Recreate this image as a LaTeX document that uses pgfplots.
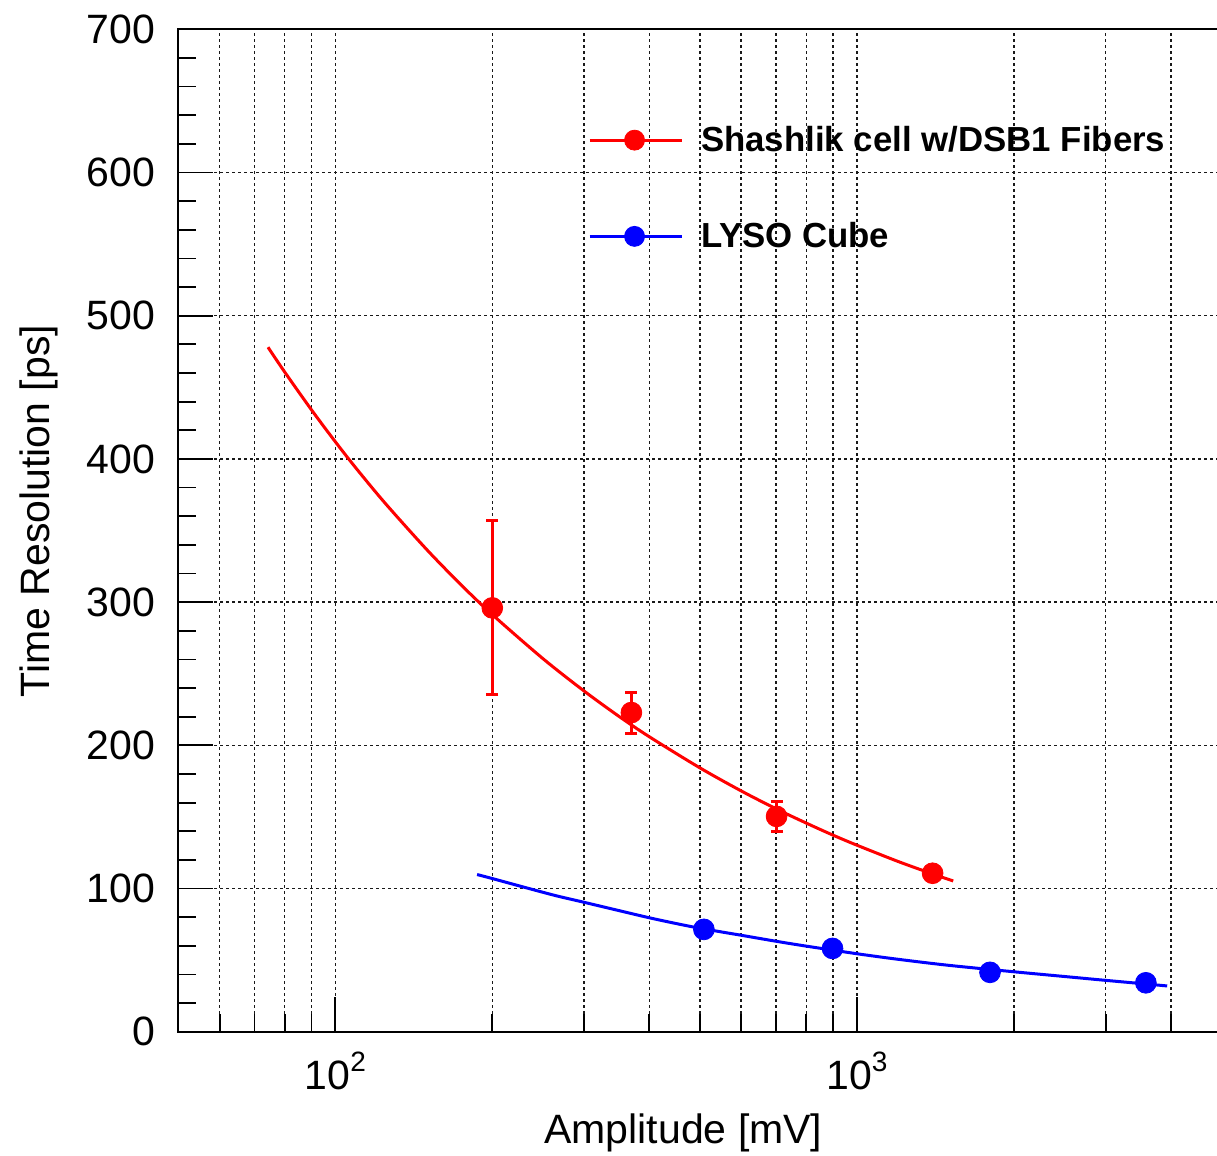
\documentclass[border=0pt]{standalone}
\usepackage{pgfplots}
\pgfplotsset{compat=1.18}
\usepackage{fontspec}
\setmainfont{Liberation Sans}

\begin{document}
\begin{tikzpicture}
\useasboundingbox (-89.15pt,-61.65pt) rectangle (519.3pt,515.85pt);
\begin{axis}[
  at={(0pt,0pt)}, anchor=south west,
  scale only axis, width=521.5pt, height=501.2pt,
  xmode=log, xmin=50, xmax=5000, ymin=0, ymax=700,
  xtick={100,1000},
  xticklabels={{10\raisebox{9pt}{\fontsize{14}{14}\selectfont 2}},{10\raisebox{9pt}{\fontsize{14}{14}\selectfont 3}}},
  minor xtick={60,70,80,90,200,300,400,500,600,700,800,900,2000,3000,4000},
  ytick={0,100,200,300,400,500,600,700},
  minor y tick num=4,
  tick align=inside, xtick pos=bottom, ytick pos=left,
  major tick length=17.5pt, minor tick length=9pt,
  every tick/.style={black, line width=0.9pt},
  axis line style={black, line width=1pt},
  xmajorgrids=true, xminorgrids=true, ymajorgrids=true,
  major grid style={black!90, line width=0.7pt, dash pattern=on 1.5pt off 1.5pt},
  minor grid style={black!90, line width=0.7pt, dash pattern=on 1.5pt off 1.5pt},
  tick label style={font=\fontsize{20.5}{24}\selectfont},
  /pgf/number format/assume math mode=true,
  yticklabel style={inner sep=0pt, xshift=-11.5pt},
  xticklabel style={inner sep=0pt, yshift=-9.65pt},
  xlabel={Amplitude [mV]}, ylabel={Time Resolution [ps]},
  label style={font=\fontsize{20.5}{24}\selectfont},
  xlabel style={at={(rel axis cs:0.4842,0)}, anchor=north, inner sep=0pt, yshift=-41pt},
  ylabel style={at={([xshift=-64.5pt]rel axis cs:0,0.5195)}, anchor=base, inner sep=0pt},
  legend cell align=left,
  legend style={at={(rel axis cs:0.3928,0.9035)}, anchor=north west, draw=none, fill=none,
    inner sep=0pt, outer sep=0pt, row sep=34pt, column sep=9pt,
    font=\bfseries\fontsize{17.4}{20}\selectfont, nodes={inner sep=0pt}},
]
% red fit
\addplot[red, line width=1.5pt, smooth, forget plot] coordinates {
 (74.3,478.0) (80,460.6) (90,434.3) (100,412.0) (110,392.8) (125,368.5)
 (150,336.4) (175,311.4) (200,291.3) (250,260.6) (300,237.9) (350,220.2)
 (400,206.0) (500,184.3) (600,168.2) (700,155.7) (800,145.7) (900,137.3)
 (1000,130.3) (1200,118.9) (1400,110.1) (1530,105.3)};
% blue fit
\addplot[blue, line width=1.5pt, smooth, forget plot] coordinates {
 (187,109.8) (200,107.0) (232,100.6) (265,95.0) (300,90.4) (350,84.6)
 (400,79.6) (450,75.6) (500,72.3) (600,67.4) (700,63.2) (800,59.8)
 (1000,54.5) (1200,50.6) (1500,46.4) (2000,41.9) (2500,38.6)
 (3000,35.9) (3500,33.7) (3936,32.0)};
% red points
\addplot[red, only marks, mark=*, mark size=5.2pt, mark options={line width=0.4pt, fill=red},
  legend image code/.code={\draw[red, line width=1.5pt] (0pt,0pt) -- (46pt,0pt); \fill[red] (22.5pt,0pt) circle (5pt);},
  error bars/.cd, y dir=both, y explicit,
  error bar style={line width=1.5pt, red},
  error mark options={rotate=90, line width=1.5pt, mark size=3pt, red}]
  coordinates {
  (200,296.0) +- (0,60.7)
  (369.6,222.9) +- (0,14.3)
  (701.5,150.4) +- (0,10.5)
  (1397,110.7) +- (0,4.0)};
\addlegendentry{Shashlik cell w/DSB1 Fibers}
% blue points
\addplot[blue, only marks, mark=*, mark size=5.2pt, mark options={line width=0.4pt, fill=blue},
  legend image code/.code={\draw[blue, line width=1.5pt] (0pt,0pt) -- (46pt,0pt); \fill[blue] (22.5pt,0pt) circle (5pt);}]
  coordinates {(509,71.5) (898,58.2) (1800,41.5) (3582,34.2)};
\addlegendentry{LYSO Cube}
\end{axis}
\end{tikzpicture}
\end{document}
